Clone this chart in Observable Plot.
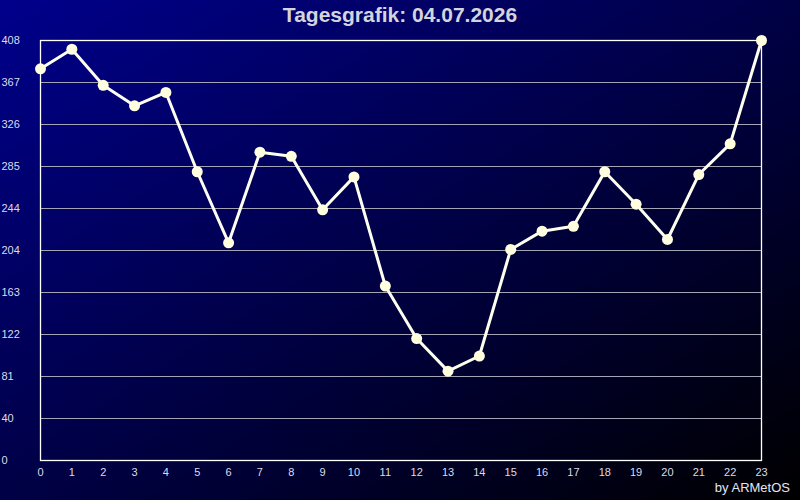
<!DOCTYPE html>
<html>
<head>
<meta charset="utf-8">
<script src="https://cdn.jsdelivr.net/npm/d3@7"></script>
<script src="https://cdn.jsdelivr.net/npm/@observablehq/plot@0.6"></script>
<style>
  html, body { margin: 0; padding: 0; }
  #wrap {
    position: relative; width: 800px; height: 500px; overflow: hidden;
    background: linear-gradient(to bottom right, #00008c 0%, #000000 100%);
    font-family: "Liberation Sans", Arial, sans-serif;
  }
  #title {
    position: absolute; left: 0; top: 3px; width: 800px; text-align: center;
    color: #d4d4dc; font-size: 21px; font-weight: bold;
  }
  #caption {
    position: absolute; right: 10px; top: 480px;
    color: #e6e6ee; font-size: 13px;
  }
  #chart { position: absolute; left: 0; top: 0; }
</style>
</head>
<body>
<div id="wrap">
  <div id="chart"></div>
  <div id="title">Tagesgrafik: 04.07.2026</div>
  <div id="caption">by ARMetOS</div>
</div>
<script>
const hours = [0,1,2,3,4,5,6,7,8,9,10,11,12,13,14,15,16,17,18,19,20,21,22,23];
const values = [380.5,399.5,364.5,344.5,357.5,280.5,211.5,299.5,295.5,243.5,275.5,169.5,118.5,86.8,101.5,205,222.8,227.5,280.5,249,214.7,277.8,307.6,408];
const yTickValues = [0,40.8,81.6,122.4,163.2,204,244.8,285.6,326.4,367.2,408];
const yTickLabels = ["0","40","81","122","163","204","244","285","326","367","408"];
const xTickLabels = hours.map(String);

const data = hours.map((h, i) => ({hour: h, value: values[i]}));

const plot = Plot.plot({
  width: 800,
  height: 500,
  marginLeft: 40,
  marginRight: 39,
  marginTop: 40,
  marginBottom: 40,
  style: {background: "transparent", fontFamily: "'Liberation Sans', Arial, sans-serif", fontSize: "11px", color: "#dcdce8"},
  x: {domain: [0, 23]},
  y: {domain: [0, 408]},
  marks: [
    Plot.ruleY(yTickValues.slice(1, -1), {stroke: "#a4a4b4", strokeWidth: 1}),
    Plot.frame({stroke: "#ffffff", strokeWidth: 1.3}),
    Plot.axisY({ticks: yTickValues, tickSize: 0, tickFormat: (d, i) => yTickLabels[i], textAnchor: "start", dx: -30, fill: "#dcdce8", label: null}),
    Plot.axisX({ticks: hours, tickSize: 0, tickPadding: 8, tickFormat: (d, i) => xTickLabels[i], fill: "#dcdce8", label: null}),
    Plot.line(data, {x: "hour", y: "value", stroke: "#fffff0", strokeWidth: 3}),
    Plot.dot(data, {x: "hour", y: "value", r: 5.5, fill: "#ffffe0", stroke: "none"})
  ]
});
document.getElementById("chart").appendChild(plot);
</script>
</body>
</html>
